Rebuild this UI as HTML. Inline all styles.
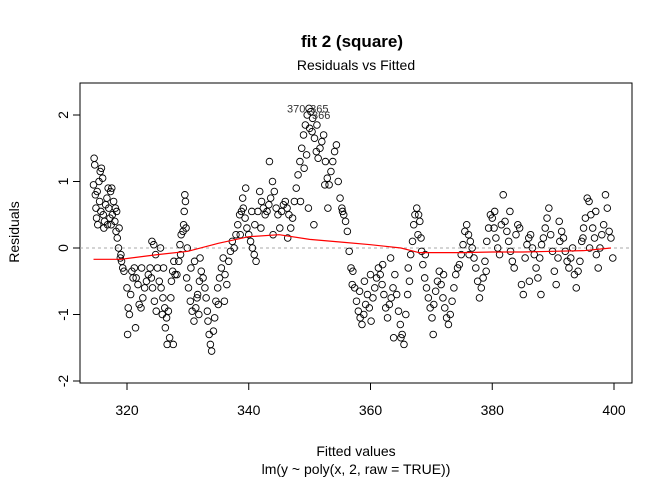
<!DOCTYPE html>
<html><head><meta charset="utf-8"><style>
body{margin:0;background:#fff;}
svg text{font-family:"Liberation Sans",Arial,sans-serif;}
</style></head><body>
<svg id="chart" width="672" height="480">
<text x="352" y="47" text-anchor="middle" font-size="17" font-weight="bold">fit 2 (square)</text>
<text x="356" y="70" text-anchor="middle" font-size="14">Residuals vs Fitted</text>
<text x="356" y="456" text-anchor="middle" font-size="14">Fitted values</text>
<text x="356" y="474" text-anchor="middle" font-size="14">lm(y ~ poly(x, 2, raw = TRUE))</text>
<text x="19" y="232" text-anchor="middle" font-size="14" transform="rotate(-90 19 232)">Residuals</text>
<rect x="80" y="83" width="552" height="300" fill="none" stroke="#000"/>
<g id="axes"></g><g id="marks"></g>
</svg>
<script>
const xTicks=[320,340,360,380,400];
const yTicks=[-2,-1,0,1,2];
const fitted=[314.6,314.7,314.5,314.8,314.9,315.0,315.2,315.1,315.4,315.6,315.8,316.0,315.5,315.7,316.1,316.3,316.5,316.7,316.9,317.0,317.2,317.4,317.6,317.8,317.5,317.3,318.0,318.2,318.4,318.6,318.9,319.1,318.7,318.3,318.1,316.2,316.8,319.3,319.5,319.0,
320,320.2,320.4,320.1,320.6,321,321.2,321.5,321.8,322,322.3,322.6,322.9,321.4,323.2,323.5,323.8,322.4,320.8,324,324.2,324.5,324.8,324.1,324.4,324.7,
325.0,325.3,325.6,325.9,326.2,326.5,326.8,326.3,326.6,327.0,327.3,327.5,327.7,327.2,327.9,326.0,325.5,325.8,327.6,
328.2,328.5,328.7,328.9,328.8,329.4,329.5,329.6,329.3,329.7,329.2,329.9,
329.8,330.1,330.4,330.7,331,331.3,331.6,331.9,332.2,332.5,330.5,331.1,332.8,333.0,333.3,333.5,333.7,333.9,334.2,334.4,332.0,331.5,333.2,331.8,
334.6,334.9,335.2,335.5,335.8,336.1,336.4,336.7,337.0,337.3,337.6,336.0,335.0,337.9,
338.2,338.5,338.8,339.1,339.4,339.7,340.0,340.3,338.6,339.0,339.5,340.6,340.9,341.2,341.0,340.5,
341.5,341.8,342.1,342.4,342.7,343.0,343.3,343.6,343.9,344.2,344.5,344.8,345.1,345.4,345.7,346.0,346.3,346.6,346.9,343.4,342.0,344.0,346.4,347.2,347.5,
347.8,348.1,348.4,348.7,349.0,349.3,349.6,349.9,350.2,350.5,349.1,349.5,350.0,350.4,350.8,351.1,351.4,351.7,352.0,352.3,351.2,348.5,349.8,350.7,
352.6,352.9,353.2,353.5,353.8,354.1,354.4,352.5,353.0,354.7,355.0,355.3,355.6,355.9,356.2,355.4,356.5,356.8,357.0,357.1,
357.4,357.7,358.0,358.3,358.6,358.9,359.2,359.5,359.8,360.1,360.4,360.7,361.0,358.2,359.0,360.0,
361.3,361.6,361.9,362.2,362.5,362.8,363.1,363.4,363.7,364.0,362.0,363.3,364.3,364.6,364.9,365.2,365.5,365.0,365.8,366.1,366.4,366.2,363.8,
366.6,366.9,367.1,367.3,367.6,367.9,368.1,367.8,368.3,368.4,
368.6,368.9,369.2,369.5,369.8,370.1,370.4,370.7,371.0,371.3,369.0,370.3,371.6,371.9,372.2,372.5,372.8,373.1,373.4,373.7,374.0,374.3,372.0,
374.6,374.9,375.2,375.5,375.8,376.1,376.4,376.7,377.0,377.3,377.6,377.9,378.2,378.5,378.8,379.1,379.4,379.7,380.0,380.3,380.6,380.9,381.2,381.5,381.8,382.1,382.4,382.7,383.0,383.3,383.6,383.9,384.2,384.5,384.8,385.1,385.4,385.7,386.0,386.3,386.6,386.9,387.2,387.5,387.8,388.1,388.4,388.7,389.0,389.3,389.6,389.9,390.2,390.5,390.8,391.1,391.4,391.7,392.0,392.3,392.6,392.9,393.2,393.5,393.8,394.1,394.4,394.7,395.0,395.3,395.6,395.9,396.2,396.5,396.8,397.1,397.4,397.7,398.0,398.3,398.6,398.9,399.2,399.5,399.8,397.0,394.9,382.9,380.4,376.2,379.0,386.1,388.0,391.0,396.0];
const residuals=[1.35,1.25,0.95,0.8,0.6,0.45,0.35,0.85,1.0,1.15,1.2,1.05,0.7,0.55,0.5,0.4,0.65,0.75,0.9,0.6,0.45,0.35,0.5,0.7,0.9,0.85,0.4,0.25,0.15,0.0,-0.15,-0.2,0.3,0.55,0.6,0.3,0.35,-0.3,-0.35,-0.1,
-0.6,-0.9,-1.0,-1.3,-0.7,-0.45,-0.3,-0.45,-0.55,-0.85,-0.9,-0.75,-0.6,-1.2,-0.5,-0.4,-0.3,-0.3,-0.35,-0.45,-0.6,-0.8,-0.95,0.1,0.05,-0.1,
-0.3,-0.5,-0.6,-0.75,-0.9,-1.05,-0.95,-1.2,-1.45,-1.35,-0.5,-0.35,-0.2,-0.75,-0.4,-0.3,0.0,-1.0,-1.45,
-0.4,-0.2,0.05,0.2,-0.1,0.55,0.8,0.7,0.35,0.3,0.25,0.0,
-0.45,-0.6,-0.8,-0.95,-1.1,-0.9,-0.7,-0.5,-0.35,-0.45,-0.3,-0.2,-0.6,-0.75,-1.1,-1.3,-1.45,-1.55,-1.25,-1.05,-0.15,-0.75,-0.95,-1.0,
-0.8,-0.6,-0.45,-0.3,-0.15,-0.4,-0.55,-0.2,-0.05,0.1,0.0,-0.8,-0.85,0.2,
0.35,0.5,0.55,0.6,0.45,0.3,0.2,0.1,0.2,0.75,0.9,0.0,-0.1,-0.2,0.35,0.55,
0.55,0.85,0.7,0.6,0.5,0.55,0.65,0.75,1.0,0.85,0.6,0.5,0.3,0.55,0.65,0.7,0.6,0.5,0.3,1.3,0.3,0.2,0.15,0.45,0.7,
0.9,1.1,1.3,1.5,1.7,1.85,2.0,2.1,2.05,1.95,1.2,1.4,1.8,1.75,1.65,1.45,1.35,1.5,1.6,1.7,1.85,0.7,0.6,0.35,
1.3,1.05,0.95,1.15,1.3,1.45,1.55,0.95,0.6,1.0,0.75,0.6,0.5,0.4,0.25,0.55,-0.05,-0.3,-0.55,-0.35,
-0.6,-0.8,-0.95,-1.05,-1.15,-1.0,-0.85,-0.7,-0.9,-1.1,-0.75,-0.6,-0.45,-0.65,-0.5,-0.4,
-0.3,-0.4,-0.55,-0.7,-0.9,-1.05,-0.85,-0.75,-0.6,-0.4,-0.25,-0.15,-0.7,-0.95,-1.15,-1.3,-1.45,-1.35,-1.0,-0.7,-0.5,-0.3,-1.35,
-0.1,0.1,0.35,0.5,0.6,0.5,0.4,0.2,0.15,-0.05,
-0.25,-0.45,-0.6,-0.75,-0.9,-1.05,-0.85,-0.65,-0.5,-0.35,-0.1,-1.3,-0.55,-0.75,-0.9,-1.05,-1.15,-1.0,-0.8,-0.6,-0.4,-0.3,-0.4,
-0.25,-0.1,0.05,0.25,0.35,0.2,0.1,0.0,-0.15,-0.3,-0.5,-0.75,-0.6,-0.45,-0.2,0.1,0.3,0.5,0.45,0.3,0.15,0.0,-0.1,0.35,0.8,0.4,0.25,0.1,-0.05,-0.2,-0.3,0.2,0.35,0.3,-0.55,-0.7,-0.15,0.05,0.15,0.2,0.0,-0.1,-0.3,-0.45,-0.15,0.05,0.15,0.3,0.45,0.6,0.2,-0.05,-0.35,-0.55,-0.15,0.1,0.25,0.15,-0.05,-0.2,-0.3,-0.15,0.0,-0.4,-0.6,-0.35,-0.2,0.1,0.3,0.45,0.75,0.7,0.5,0.3,0.15,-0.1,-0.3,0.0,0.2,0.35,0.8,0.6,0.25,0.15,-0.15,0.55,0.15,0.55,0.55,-0.1,-0.35,-0.5,-0.7,0.4,0.0];
const smoothX=[314.5,319,325,330,335,340,345,350,355,360,365,368,375,380,385,390,395,399.5];
const smoothY=[-0.17,-0.17,-0.1,-0.05,0.07,0.17,0.2,0.13,0.09,0.05,0.0,-0.07,-0.07,-0.06,-0.06,-0.05,-0.04,0.0];
const outlierLabels=["370","365","366"];
const outlierF=[347.8,351.6,351.9];
const outlierR=[2.1,2.1,2.0];

const NS="http://www.w3.org/2000/svg";
const sx=f=>127+(f-320)*6.0875;
const sy=r=>248-r*66.5;
const axes=document.getElementById('axes'), marks=document.getElementById('marks');
function mk(tag,attrs,parent){const e=document.createElementNS(NS,tag);for(const k in attrs)e.setAttribute(k,attrs[k]);parent.appendChild(e);return e;}

mk('line',{x1:sx(320),x2:sx(400),y1:383,y2:383,stroke:'#000'},axes);
mk('line',{x1:80,x2:80,y1:sy(-2),y2:sy(2),stroke:'#000'},axes);
xTicks.forEach(v=>{
  const l=mk('line',{x1:sx(v),x2:sx(v),y1:383,y2:390,stroke:'#000'},axes);
  
  
  const t=mk('text',{x:sx(v),y:415,'text-anchor':'middle','font-size':14},axes);
  t.textContent=v;
  
  
});
yTicks.forEach(v=>{
  const l=mk('line',{x1:73,x2:80,y1:sy(v),y2:sy(v),stroke:'#000'},axes);
  
  
  const t=mk('text',{x:68,y:sy(v),'text-anchor':'middle','font-size':14,transform:`rotate(-90 68 ${sy(v)})`},axes);
  t.textContent=v;
  
  
});
const zl=mk('line',{x1:80,x2:632,y1:sy(0),y2:sy(0),stroke:'#aaa','stroke-dasharray':'3,3'},marks);


fitted.forEach((f,i)=>{
  const c=mk('circle',{cx:sx(f),cy:sy(residuals[i]),r:3.3,fill:'none',stroke:'#000','stroke-width':0.9},marks);
  
  
});
const sm=mk('polyline',{points:smoothX.map((f,i)=>sx(f)+','+sy(smoothY[i])).join(' '),fill:'none',stroke:'#f00','stroke-width':1.2},marks);


outlierLabels.forEach((s,i)=>{
  const t=mk('text',{x:sx(outlierF[i]),y:sy(outlierR[i])+4,'text-anchor':'middle','font-size':11,fill:'#333'},marks);
  t.textContent=s;
  
  
});
</script>
</body></html>
